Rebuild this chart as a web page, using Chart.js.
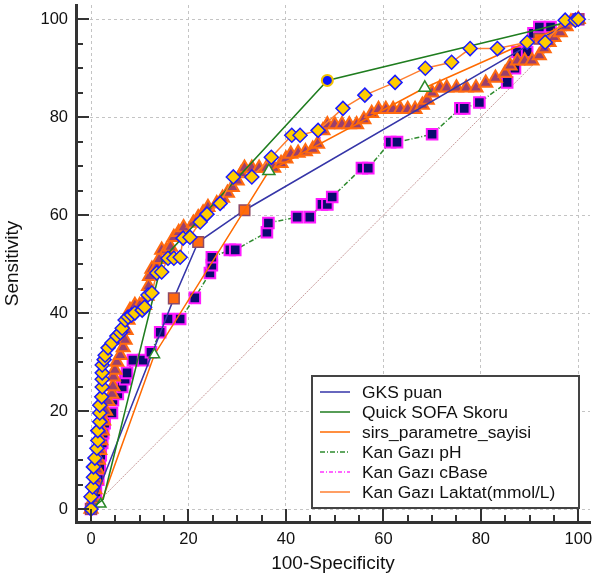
<!DOCTYPE html>
<html>
<head>
<meta charset="utf-8">
<script src="https://cdn.jsdelivr.net/npm/chart.js@4.4.0/dist/chart.umd.min.js"></script>
<style>
  html, body { margin: 0; padding: 0; background: #fff; }
  #wrap { width: 593px; height: 578px; }
</style>
</head>
<body>
<div id="wrap"><canvas id="c" width="593" height="578"></canvas></div>
<script>
// ROC curves: x = 100-Specificity, y = Sensitivity
const labels = ['GKS puan', 'Quick SOFA Skoru', 'sirs_parametre_sayisi', 'Kan Gazı pH', 'Kan Gazı cBase', 'Kan Gazı Laktat(mmol/L)']

const gksX = [0, 17, 22, 31.5, 92, 100]
const gksY = [0, 43, 54.5, 61, 96, 100]

const qsofaX = [0, 2.5, 14.7, 48.5, 90.5, 100]
const qsofaY = [0, 2, 51, 87.5, 97.6, 100]

const sirsX = [0, 2, 13, 36.5, 68.5, 100]
const sirsY = [0, 1, 31.5, 69, 86, 100]

const phX = [0, 0.5, 1, 1.5, 1.8, 2, 2.3, 2.5, 2.8, 4.3, 4.5, 5.5, 6.4, 7, 7.4, 8.6, 10.7, 12.3, 14.2, 15.8, 18.3, 21.3, 24.4, 24.8, 24.8, 28.5, 29.6, 36.1, 36.4, 42.3, 44.9, 47.4, 48.5, 49.5, 55.6, 56.9, 61.4, 62.8, 70, 75.8, 76.6, 79.7, 85.4, 87, 87.5, 89.5, 90.8, 92, 94.3, 100]
const phY = [0, 1.5, 3.5, 6, 8.5, 11, 13.5, 15.5, 17.5, 19.6, 22.2, 23.5, 24.9, 26.5, 27.8, 30.4, 30.4, 32, 36.1, 38.8, 38.8, 43.1, 48.2, 49.8, 51.4, 52.9, 52.9, 56.5, 58.4, 59.6, 59.6, 62.2, 62.2, 63.7, 69.6, 69.6, 74.9, 74.9, 76.5, 81.8, 81.8, 83, 87.1, 90, 93.3, 93.3, 97.1, 98.4, 98.4, 100]

const cbaseX = [0, 0.5, 0.8, 1, 1.3, 1.5, 1.8, 2, 2.3, 2.6, 3, 3.5, 4.3, 4.5, 4.6, 4.9, 5.3, 6, 6.6, 7, 7.2, 7.6, 8, 9, 10, 11, 11.5, 11.8, 12, 12.5, 13.5, 14, 14.5, 15.5, 16.3, 17, 18, 19, 21, 22, 23, 24, 25.8, 27, 28, 29, 30, 30.8, 31.5, 33, 34.5, 36, 37.5, 39, 40, 41, 42.5, 44, 45.5, 46.5, 47.6, 48.5, 50, 51.5, 53, 54.5, 56, 57.6, 59, 60.5, 62, 63.5, 65, 66.5, 68, 69, 70, 71.6, 73, 75, 77, 79, 81, 83, 85, 86, 87.5, 89, 90.5, 92, 93, 94, 95, 96.3, 97.5, 98.5, 100]
const cbaseY = [0, 2, 4, 6, 8, 10, 12, 14, 16, 18, 20, 22, 23.5, 25, 27, 28.4, 30, 31.4, 33, 34.5, 36.5, 38.6, 40.6, 41.6, 41.6, 41.6, 43.5, 45.5, 47.5, 49, 49.4, 51, 52.9, 52.9, 53.5, 55.5, 56.5, 57.5, 58.4, 59.5, 60.5, 61.6, 62.4, 63.5, 64.5, 65.7, 67, 68.5, 69.6, 69.6, 69.6, 69.6, 69.6, 70.6, 71.5, 72.5, 72.7, 73, 73.5, 74.5, 77.3, 78.5, 78.5, 78.5, 78.5, 78.5, 79.5, 80.8, 81.6, 81.6, 81.6, 81.6, 81.6, 81.6, 82.5, 83.5, 85, 86, 86, 86, 86, 86, 87, 88, 89, 90.5, 91.5, 91.5, 91.5, 92.6, 94, 95.3, 96.3, 97.3, 98.5, 99.5, 100]

const laktatX = [0, 0, 0.3, 0.5, 0.5, 0.8, 1.2, 1.4, 1.4, 1.8, 1.8, 1.8, 2.2, 2.3, 2.3, 2.3, 2.3, 2.7, 2.9, 3.5, 4.3, 5.3, 6, 6.4, 7, 7.6, 8.3, 9, 10.5, 11, 11.7, 12.5, 13.5, 14.5, 15.8, 17, 18.3, 18.9, 20.3, 22.4, 23.8, 26.5, 29.2, 33, 37, 41.2, 42.9, 46.6, 51.7, 56.2, 62.4, 68.6, 74, 77.8, 83.4, 89.5, 93.2, 97.3, 99.4, 100]
const laktatY = [0, 2.5, 4.5, 6.5, 8.6, 10.4, 12.4, 14, 16, 17.8, 19.6, 21.2, 22.9, 24.9, 26.5, 27.8, 29.4, 30.5, 31.4, 32.9, 33.9, 35.3, 36, 36.9, 38.6, 39.2, 39.6, 40, 40.6, 41.2, 43.7, 44.1, 48.2, 48.4, 51.2, 51.2, 51.4, 55.3, 55.5, 58.6, 60.2, 62.4, 67.8, 67.8, 71.8, 76.3, 76.3, 77.3, 81.8, 84.5, 87.1, 90, 91.2, 94, 94, 95.3, 95.3, 99.8, 99.8, 100]

const diagX = [0, 100]
const diagY = [0, 100]

const xTicks = [0, 20, 40, 60, 80, 100]
const yTicks = [0, 20, 40, 60, 80, 100]

const pts = (xs, ys) => xs.map((x, i) => ({ x: x, y: ys[i] }))
const FONT = '"Liberation Sans", Arial, sans-serif'

const datasets = [
  {
    label: labels[0], data: pts(gksX, gksY), order: 4,
    borderColor: '#3535a8', borderWidth: 1.5,
    pointStyle: 'rect', pointRadius: 7.5, pointBackgroundColor: '#ff6a10', pointBorderColor: '#8e4a66', pointBorderWidth: 1.5
  },
  {
    label: labels[1], data: pts(qsofaX, qsofaY), order: 2,
    borderColor: '#1f7d1f', borderWidth: 1.5,
    pointStyle: 'circle', pointRadius: [0, 0, 0, 5.5, 0, 0], pointBackgroundColor: '#0a14ff', pointBorderColor: '#f2c200', pointBorderWidth: 2
  },
  {
    label: labels[2], data: pts(sirsX, sirsY), order: 3,
    borderColor: '#ff6a00', borderWidth: 1.5,
    pointStyle: 'triangle', pointRadius: [0, 6, 6, 7, 7, 0], pointBackgroundColor: '#ffffff', pointBorderColor: '#2a8a2a', pointBorderWidth: 1.5
  },
  {
    label: labels[3], data: pts(phX, phY), order: 6,
    borderColor: '#2e8b2e', borderWidth: 1.5, borderDash: [5, 2, 1, 2],
    pointStyle: 'rect', pointRadius: 7.5, pointBackgroundColor: '#0a0a6e', pointBorderColor: '#ff1aff', pointBorderWidth: 2
  },
  {
    label: labels[4], data: pts(cbaseX, cbaseY), order: 5,
    borderColor: '#ff33ff', borderWidth: 1.5, borderDash: [4, 2, 1, 2],
    pointStyle: 'triangle', pointRadius: 7.5, pointBackgroundColor: '#9a3f6e', pointBorderColor: '#ff6a10', pointBorderWidth: 2
  },
  {
    label: labels[5], data: pts(laktatX, laktatY), order: 1,
    borderColor: '#ff7f30', borderWidth: 1.5,
    pointStyle: 'rectRot', pointRadius: 7, pointBackgroundColor: '#ffcc00', pointBorderColor: '#1a1aff', pointBorderWidth: 1.5
  },
  {
    label: '', data: pts(diagX, diagY), order: 9, noLegend: true,
    borderColor: '#c79a9a', borderWidth: 1, borderDash: [2, 1], pointRadius: 0
  }
]

// minor / major tick marks drawn inside the plot, every 5 units
const axisMarks = {
  id: 'axisMarks',
  afterDraw(chart) {
    const { ctx, chartArea: a, scales: { x, y } } = chart
    ctx.save()
    ctx.strokeStyle = '#333'
    ctx.lineWidth = 2
    for (let v = 0; v <= 100; v += 5) {
      const len = v % 20 === 0 ? 13 : 7
      const px = Math.round(x.getPixelForValue(v))
      ctx.beginPath(); ctx.moveTo(px, a.bottom); ctx.lineTo(px, a.bottom - len); ctx.stroke()
      const py = Math.round(y.getPixelForValue(v))
      ctx.beginPath(); ctx.moveTo(a.left, py); ctx.lineTo(a.left + len, py); ctx.stroke()
    }
    ctx.restore()
  }
}

// boxed legend sitting inside the plot, bottom right
const boxLegend = {
  id: 'boxLegend',
  afterDraw(chart) {
    const { ctx, chartArea: a } = chart
    const left = a.right - 278, top = a.bottom - 146, w = 267, h = 132
    ctx.save()
    ctx.fillStyle = '#fff'
    ctx.fillRect(left, top, w, h)
    ctx.strokeStyle = '#444'
    ctx.lineWidth = 2
    ctx.strokeRect(left, top, w, h)
    ctx.font = '17.4px ' + FONT
    ctx.textBaseline = 'middle'
    chart.data.datasets.filter(d => !d.noLegend).forEach((d, i) => {
      const yy = top + 16 + i * 20
      ctx.strokeStyle = d.borderColor
      ctx.lineWidth = 1.5
      ctx.setLineDash(d.borderDash || [])
      ctx.beginPath(); ctx.moveTo(left + 8, yy); ctx.lineTo(left + 38, yy); ctx.stroke()
      ctx.setLineDash([])
      ctx.fillStyle = '#111'
      ctx.fillText(d.label, left + 50, yy + 1)
    })
    ctx.restore()
  }
}

const fixedTicks = vals => scale => { scale.ticks = vals.map(v => ({ value: v })) }

new Chart(document.getElementById('c'), {
  type: 'scatter',
  data: { datasets: datasets.map(d => Object.assign({ showLine: true, tension: 0, fill: false }, d)) },
  options: {
    responsive: false,
    animation: false,
    layout: { autoPadding: false, padding: { top: 5, right: 3, left: 0, bottom: 0 } },
    plugins: { legend: { display: false }, tooltip: { enabled: false } },
    scales: {
      x: {
        type: 'linear', min: -3.08, max: 102.4,
        afterBuildTicks: fixedTicks(xTicks),
        afterFit: s => { s.height = 56; s.paddingLeft = 0; s.paddingRight = 0 },
        grid: { color: '#c4c4c4', lineWidth: 1, drawTicks: false },
        border: { display: true, color: '#333', width: 3, dash: [3, 3] },
        ticks: { padding: 8, color: '#111', font: { size: 16.5, family: FONT } },
        title: { display: true, text: '100-Specificity', color: '#111', font: { size: 19, family: FONT }, padding: { top: 0, bottom: 3 } }
      },
      y: {
        type: 'linear', min: -2.65, max: 102.9,
        afterBuildTicks: fixedTicks(yTicks),
        afterFit: s => { s.width = 76; s.paddingTop = 0; s.paddingBottom = 0 },
        grid: { color: '#c4c4c4', lineWidth: 1, drawTicks: false },
        border: { display: true, color: '#333', width: 3, dash: [3, 3] },
        ticks: { padding: 8, color: '#111', font: { size: 16.5, family: FONT } },
        title: { display: true, text: 'Sensitivity', color: '#111', font: { size: 19, family: FONT }, padding: { top: 1, bottom: 0 } }
      }
    }
  },
  plugins: [axisMarks, boxLegend]
})
</script>
</body>
</html>
